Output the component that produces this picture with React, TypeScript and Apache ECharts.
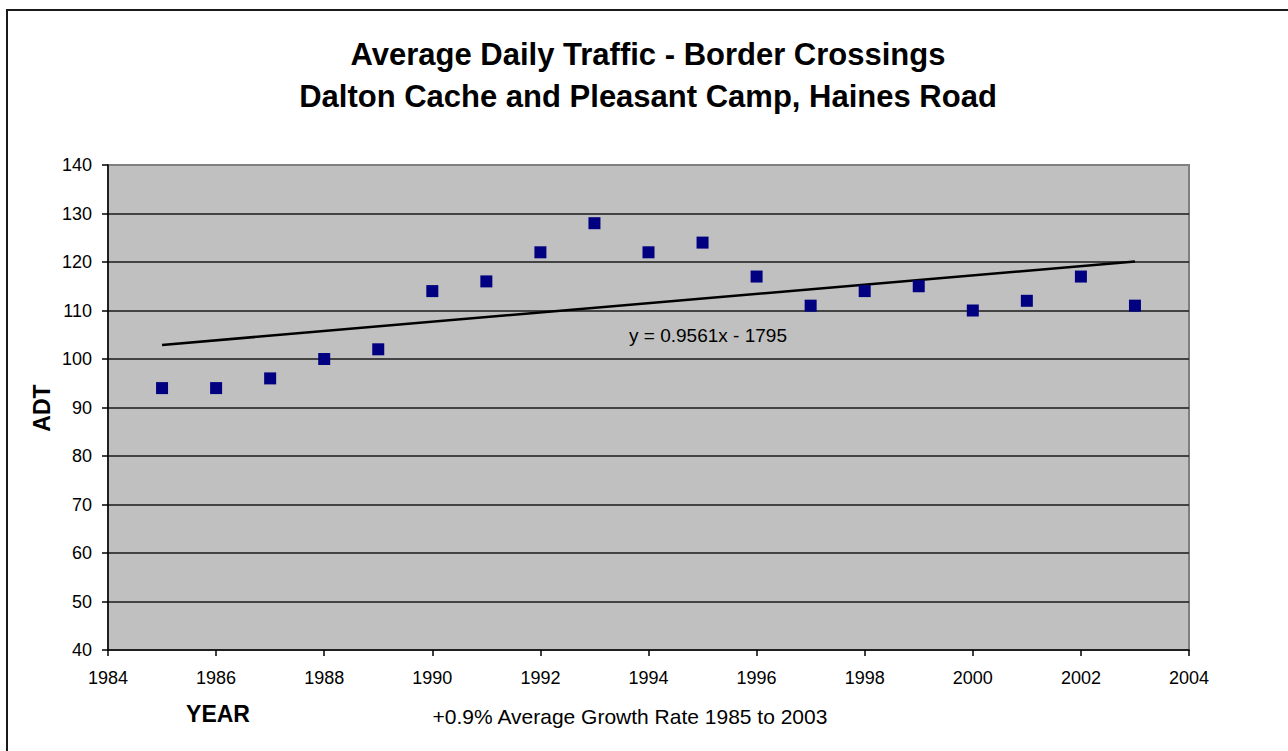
import React, { useEffect, useRef } from "react";
import * as echarts from "echarts";

const years = [1985, 1986, 1987, 1988, 1989, 1990, 1991, 1992, 1993, 1994, 1995, 1996, 1997, 1998, 1999, 2000, 2001, 2002, 2003];
const adt = [94, 94, 96, 100, 102, 114, 116, 122, 128, 122, 124, 117, 111, 114, 115, 110, 112, 117, 111];
const trendYears = [1985, 2003];
const trendValues = [102.9, 120.1];

const titleLines = ["Average Daily Traffic - Border Crossings", "Dalton Cache and Pleasant Camp, Haines Road"];
const equationLabel = "y = 0.9561x - 1795";
const yAxisName = "ADT";
const xAxisName = "YEAR";
const footnote = "+0.9% Average Growth Rate 1985 to 2003";

const FONT = "'Liberation Sans', Arial, Helvetica, sans-serif";

export default function App() {
  const ref = useRef<HTMLDivElement>(null);
  useEffect(() => {
    if (!ref.current) return;
    const chart = echarts.init(ref.current, null, { renderer: "svg" });
    const points = years.map((y, i) => [y, adt[i]]);
    const trend = trendYears.map((y, i) => [y, trendValues[i]]);
    chart.setOption({
      animation: false,
      backgroundColor: "#ffffff",
      textStyle: { fontFamily: FONT },
      grid: {
        left: 108,
        right: 99,
        top: 165,
        bottom: 101,
        show: true,
        backgroundColor: "#c0c0c0",
        borderColor: "#808080",
        borderWidth: 2,
      },
      xAxis: {
        type: "value",
        min: 1984,
        max: 2004,
        interval: 2,
        axisLine: { show: true, onZero: false, lineStyle: { color: "#000", width: 1.5 } },
        axisTick: { show: true, inside: false, length: 6, lineStyle: { color: "#000", width: 1.5 } },
        axisLabel: { color: "#000", fontSize: 18, fontFamily: FONT, margin: 19, formatter: (v: number) => String(v) },
        splitLine: { show: false },
      },
      yAxis: {
        type: "value",
        min: 40,
        max: 140,
        interval: 10,
        axisLine: { show: true, onZero: false, lineStyle: { color: "#000", width: 1.5 } },
        axisTick: { show: true, inside: false, length: 6, lineStyle: { color: "#000", width: 1.5 } },
        axisLabel: { color: "#000", fontSize: 18, fontFamily: FONT, margin: 16 },
        splitLine: { show: true, showMinLine: false, showMaxLine: false, lineStyle: { color: "#1a1a1a", width: 1.5 } },
      },
      series: [
        {
          type: "line",
          data: trend,
          showSymbol: false,
          symbol: "none",
          lineStyle: { color: "#000", width: 2.5 },
          z: 3,
        },
        {
          type: "scatter",
          data: points,
          symbol: "rect",
          symbolSize: 12,
          itemStyle: { color: "#000080", opacity: 1 },
          z: 4,
        },
      ],
      graphic: [
        {
          type: "rect",
          shape: { x: 7, y: 10, width: 1320, height: 800 },
          style: { fill: "none", stroke: "#1a1a1a", lineWidth: 2 },
          z: 10,
          silent: true,
        },
        {
          type: "text",
          x: 648,
          y: 54,
          style: { text: titleLines[0], font: `bold 31px ${FONT}`, fill: "#000", textAlign: "center", textVerticalAlign: "middle" },
        },
        {
          type: "text",
          x: 648,
          y: 96,
          style: { text: titleLines[1], font: `bold 31px ${FONT}`, fill: "#000", textAlign: "center", textVerticalAlign: "middle" },
        },
        {
          type: "text",
          x: 708,
          y: 335,
          style: { text: equationLabel, font: `19px ${FONT}`, fill: "#000", textAlign: "center", textVerticalAlign: "middle" },
          z: 5,
        },
        {
          type: "text",
          x: 42,
          y: 408,
          rotation: Math.PI / 2,
          style: { text: yAxisName, font: `bold 23px ${FONT}`, fill: "#000", textAlign: "center", textVerticalAlign: "middle" },
        },
        {
          type: "text",
          x: 218,
          y: 714,
          style: { text: xAxisName, font: `bold 23px ${FONT}`, fill: "#000", textAlign: "center", textVerticalAlign: "middle" },
        },
        {
          type: "text",
          x: 630,
          y: 716,
          style: { text: footnote, font: `21px ${FONT}`, fill: "#000", textAlign: "center", textVerticalAlign: "middle" },
        },
      ],
    });
    return () => chart.dispose();
  }, []);
  return (
    <div
      ref={ref}
      style={{ position: "absolute", left: 0, top: 0, width: 1288, height: 751 }}
    />
  );
}
